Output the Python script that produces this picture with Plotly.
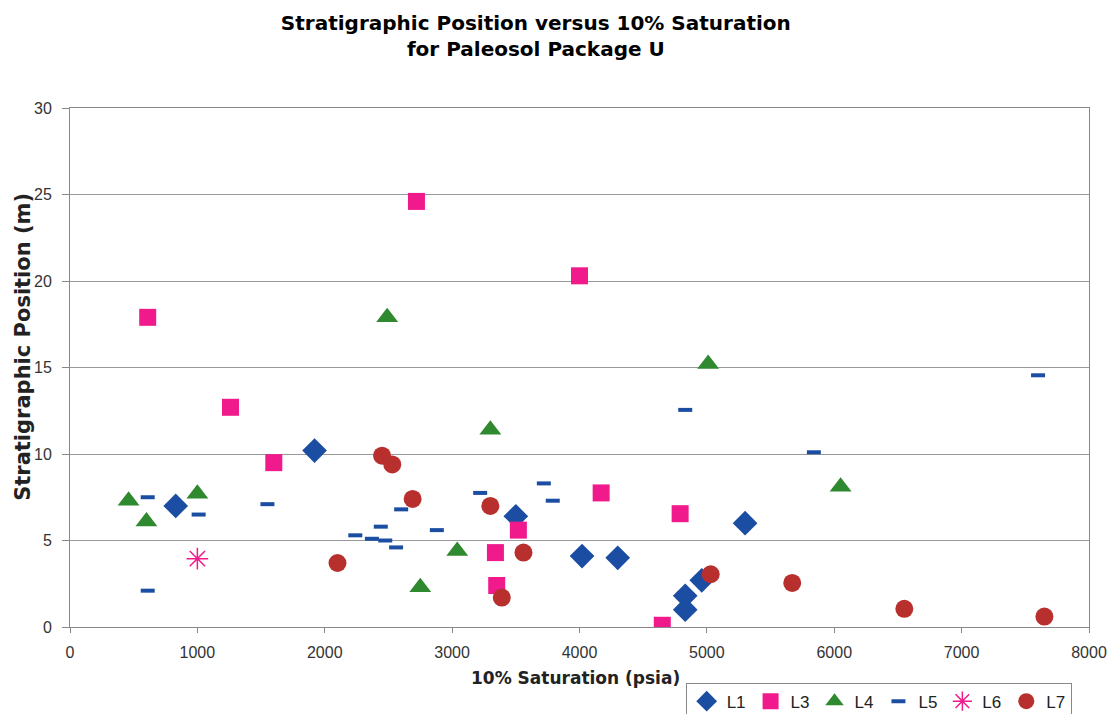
import plotly.graph_objects as go

# Saturation (psia) and stratigraphic position (m) for each layer
l1_x = [830, 1920, 3500, 4020, 4300, 5300, 4830, 4830, 4960]
l1_y = [7.0, 10.2, 6.4, 4.1, 4.0, 6.0, 1.8, 1.0, 2.7]

l3_x = [610, 1260, 1600, 2720, 4000, 4170, 4790, 3520, 3340, 3350, 4650]
l3_y = [17.9, 12.7, 9.5, 24.6, 20.3, 7.75, 6.55, 5.6, 4.3, 2.4, 0.1]

l4_x = [460, 600, 1000, 2490, 2750, 3300, 3040, 5010, 6050]
l4_y = [7.3, 6.1, 7.7, 17.9, 2.3, 11.4, 4.4, 15.2, 8.1]

l5_x = [610, 1010, 610, 1550, 2240, 2370, 2440, 2475, 2560, 2600, 2880,
        3220, 3720, 3790, 4830, 5840, 7600]
l5_y = [7.5, 6.5, 2.1, 7.1, 5.3, 5.1, 5.8, 5.0, 4.6, 6.8, 5.6,
        7.75, 8.3, 7.3, 12.55, 10.1, 14.55]

l6_x = [1000]
l6_y = [3.95]

l7_x = [2100, 2450, 2530, 2690, 3300, 3560, 3390, 5030, 5670, 6550, 7650]
l7_y = [3.7, 9.9, 9.4, 7.4, 7.0, 4.3, 1.7, 3.05, 2.55, 1.05, 0.6]

BLUE = "#1b4ea3"
PINK = "#f01a8c"
GREEN = "#2f8a2f"
RED = "#b8302e"

BOLD = "DejaVu Sans, Liberation Sans, Arial, sans-serif"
PLAIN = "Liberation Sans, Arial, sans-serif"

fig = go.Figure()
fig.add_trace(go.Scatter(x=l1_x, y=l1_y, mode="markers", name="L1",
                         marker=dict(symbol="diamond", size=19, color=BLUE)))
fig.add_trace(go.Scatter(x=l3_x, y=l3_y, mode="markers", name="L3",
                         marker=dict(symbol="square", size=17, color=PINK)))
fig.add_trace(go.Scatter(x=l4_x, y=l4_y, mode="markers", name="L4",
                         marker=dict(symbol="triangle-up", size=19, color=GREEN)))
fig.add_trace(go.Scatter(x=l5_x, y=l5_y, mode="markers", name="L5",
                         marker=dict(symbol="line-ew", size=10, color=BLUE,
                                     line=dict(color=BLUE, width=4))))
fig.add_trace(go.Scatter(x=l6_x, y=l6_y, mode="markers", name="L6",
                         marker=dict(symbol="asterisk-open", size=18, color=PINK,
                                     line=dict(color=PINK, width=1.5))))
fig.add_trace(go.Scatter(x=l7_x, y=l7_y, mode="markers", name="L7",
                         marker=dict(symbol="circle", size=18, color=RED)))

fig.update_layout(
    width=1114, height=714,
    paper_bgcolor="white", plot_bgcolor="white",
    margin=dict(l=70, r=25, t=108, b=87, autoexpand=False),
    font=dict(family=PLAIN, size=16, color="#222"),
    title=dict(
        text="<b>Stratigraphic Position versus 10% Saturation<br>for Paleosol Package U</b>",
        x=0.481, xanchor="center", xref="container",
        y=0.958, yanchor="top", yref="container",
        font=dict(family=BOLD, size=20, color="black"),
    ),
    xaxis=dict(
        range=[0, 8000], dtick=1000, showgrid=False, zeroline=False,
        showline=True, linecolor="#888", linewidth=1, mirror=True,
        ticks="outside", ticklen=5, tickcolor="#888", ticklabelstandoff=6,
        tickfont=dict(size=16, color="#333"), automargin=False,
    ),
    yaxis=dict(
        range=[0, 30], dtick=5, showgrid=True, gridcolor="#999", gridwidth=1,
        zeroline=False, showline=True, linecolor="#888", linewidth=1, mirror=True,
        ticks="outside", ticklen=7, tickcolor="#888", ticklabelstandoff=7,
        tickfont=dict(size=16, color="#333"), automargin=False,
    ),
    annotations=[
        dict(text="<b>10% Saturation (psia)</b>", xref="paper", yref="paper",
             x=0.496, y=-0.098, xanchor="center", yanchor="middle",
             showarrow=False, font=dict(family=BOLD, size=17, color="#222")),
        dict(text="<b>Stratigraphic Position (m)</b>", xref="paper", yref="paper",
             x=-0.046, y=0.54, xanchor="center", yanchor="middle", textangle=-90,
             showarrow=False, font=dict(family=BOLD, size=21, color="#222")),
    ],
    legend=dict(
        orientation="h", x=0.962, xanchor="right", xref="container",
        y=0.044, yanchor="top", yref="container",
        bordercolor="#888", borderwidth=1, bgcolor="white",
        font=dict(size=17, color="#222"), itemwidth=30, tracegroupgap=0,
    ),
)

fig.write_html("out.html")
